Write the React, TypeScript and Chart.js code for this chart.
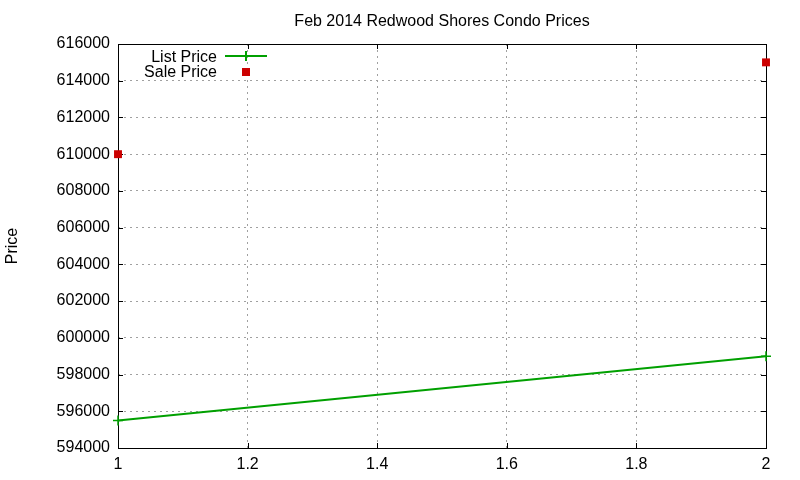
import React, { useEffect, useRef } from "react";
import { Chart, registerables } from "chart.js";

Chart.register(...registerables);

const titleText = "Feb 2014 Redwood Shores Condo Prices";
const yAxisLabel = "Price";
const listLabel = "List Price";
const saleLabel = "Sale Price";
const listX = [1, 2];
const listPrices = [595500, 599000];
const saleX = [1, 2];
const salePrices = [610000, 615000];
const yMin = 594000;
const yMax = 616000;
const yStep = 2000;
const xMin = 1;
const xMax = 2;
const xStep = 0.2;

const FONT = "Liberation Sans, Arial, sans-serif";
const GREEN = "#00a000";
const RED = "#cc0000";

const framePlugin = {
  id: "gnuFrame",
  beforeDatasetsDraw(chart: any) {
    const { ctx, chartArea: a, scales } = chart;
    ctx.save();
    ctx.strokeStyle = "#000";
    ctx.lineWidth = 1;
    ctx.setLineDash([]);
    ctx.strokeRect(a.left + 0.5, a.top + 0.5, a.right - a.left, a.bottom - a.top);
    const tl = 5;
    ctx.beginPath();
    for (const t of scales.y.ticks) {
      const y = Math.round(scales.y.getPixelForValue(t.value)) + 0.5;
      ctx.moveTo(a.left, y);
      ctx.lineTo(a.left + tl, y);
      ctx.moveTo(a.right, y);
      ctx.lineTo(a.right - tl, y);
    }
    for (const t of scales.x.ticks) {
      const x = Math.round(scales.x.getPixelForValue(t.value)) + 0.5;
      ctx.moveTo(x, a.bottom);
      ctx.lineTo(x, a.bottom - tl);
      ctx.moveTo(x, a.top);
      ctx.lineTo(x, a.top + tl);
    }
    ctx.stroke();
    ctx.restore();
  },
  afterDraw(chart: any) {
    const { ctx, chartArea: a } = chart;
    ctx.save();
    ctx.fillStyle = "#000";
    ctx.font = `16px ${FONT}`;
    ctx.textBaseline = "middle";
    // title
    ctx.textAlign = "center";
    ctx.fillText(titleText, (a.left + a.right) / 2, 21.5);
    // y label
    ctx.save();
    ctx.translate(13, (a.top + a.bottom) / 2);
    ctx.rotate(-Math.PI / 2);
    ctx.fillText(yAxisLabel, 0, 0);
    ctx.restore();
    // legend
    ctx.textAlign = "right";
    ctx.fillText(listLabel, 217, 57.5);
    ctx.fillText(saleLabel, 217, 72.5);
    ctx.strokeStyle = GREEN;
    ctx.lineWidth = 2;
    ctx.beginPath();
    ctx.moveTo(225, 56);
    ctx.lineTo(267, 56);
    ctx.moveTo(246, 51);
    ctx.lineTo(246, 61);
    ctx.stroke();
    ctx.fillStyle = RED;
    ctx.fillRect(242, 68, 8, 8);
    ctx.restore();
  },
};

export default function App() {
  const ref = useRef<HTMLCanvasElement>(null);
  useEffect(() => {
    document.body.style.margin = "0";
    const chart = new Chart(ref.current!, {
      type: "scatter",
      data: {
        datasets: [
          {
            label: listLabel,
            data: listX.map((x, i) => ({ x, y: listPrices[i] })),
            showLine: true,
            borderColor: GREEN,
            backgroundColor: GREEN,
            borderWidth: 2,
            pointStyle: "cross",
            pointRadius: 5,
            pointBorderWidth: 1.5,
            clip: false,
          } as any,
          {
            label: saleLabel,
            data: saleX.map((x, i) => ({ x, y: salePrices[i] })),
            showLine: false,
            borderColor: RED,
            backgroundColor: RED,
            pointStyle: "rect",
            pointRadius: 5.6,
            pointBorderWidth: 0,
            clip: false,
          } as any,
        ],
      },
      options: {
        responsive: false,
        animation: false,
        devicePixelRatio: 1,
        layout: { padding: { top: 44, right: 34, left: 0, bottom: 0 } },
        plugins: { legend: { display: false }, tooltip: { enabled: false }, title: { display: false } },
        scales: {
          x: {
            type: "linear",
            min: xMin,
            max: xMax,
            ticks: {
              stepSize: xStep,
              color: "#000",
              font: { family: FONT, size: 16 },
              padding: 7,
              maxRotation: 0,
              callback: (v: any) => String(Number(Number(v).toFixed(1))),
            },
            grid: { color: "#a0a0a0", drawTicks: false, lineWidth: 1 },
            border: { display: false, dash: [2, 4] },
            afterFit: (s: any) => {
              s.height = 32;
            },
          },
          y: {
            type: "linear",
            min: yMin,
            max: yMax,
            ticks: {
              stepSize: yStep,
              color: "#000",
              font: { family: FONT, size: 16 },
              padding: 8,
              callback: (v: any) => String(v),
            },
            grid: { color: "#a0a0a0", drawTicks: false, lineWidth: 1 },
            border: { display: false, dash: [2, 4] },
            afterFit: (s: any) => {
              s.width = 118;
            },
          },
        },
      },
      plugins: [framePlugin],
    });
    return () => chart.destroy();
  }, []);
  return (
    <div style={{ position: "absolute", left: 0, top: 0, width: 800, height: 480, background: "#fff" }}>
      <canvas ref={ref} width={800} height={480} />
    </div>
  );
}
